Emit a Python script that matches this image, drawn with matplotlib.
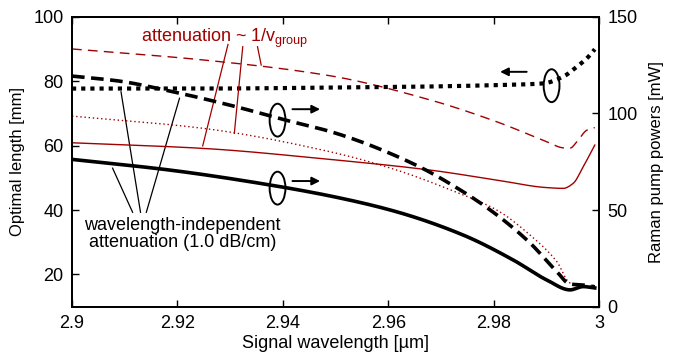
import numpy as np
import matplotlib
matplotlib.use('Agg')
import matplotlib.pyplot as plt
from matplotlib.patches import Ellipse

plt.rcParams['font.family'] = ['Liberation Sans', 'DejaVu Sans']

RED = '#a00000'

# optimal length, wavelength-independent attenuation (left axis)
wl_len_bk = [2.9, 2.9242, 2.9489, 2.966, 2.9812, 2.9894, 2.9932, 2.9958, 2.9977, 2.9992]
len_bk = [77.7, 77.7, 78.0, 78.3, 78.8, 79.3, 81.4, 84.5, 87.1, 89.9]

# optimal length, attenuation ~ 1/v_group (left axis)
wl_len_rd = [2.9, 2.9248, 2.9489, 2.9679, 2.9806, 2.9901, 2.9932, 2.9945, 2.9958, 2.9977, 2.9992]
len_rd = [90.0, 86.6, 81.7, 74.2, 67.4, 61.2, 59.3, 59.2, 61.2, 64.8, 65.6]

# pump powers (right axis)
wl_p_dash = [2.9, 2.909, 2.9185, 2.9312, 2.939, 2.950, 2.9647, 2.9742, 2.9806, 2.9869, 2.992, 2.9945, 2.997, 2.9992]
p_dash = [119.3, 116.7, 111.6, 103.4, 97.6, 89.8, 74.0, 59.5, 47.5, 33.0, 18.1, 11.7, 11.2, 10.3]

wl_p_solid = [2.9, 2.9185, 2.9375, 2.9502, 2.9616, 2.9742, 2.9837, 2.9901, 2.9945, 2.997, 2.9992]
p_solid = [76.2, 70.7, 63.0, 56.6, 49.1, 37.1, 24.2, 13.8, 8.7, 10.4, 9.7]

wl_p_rdot = [2.9, 2.9248, 2.9489, 2.9616, 2.9711, 2.9806, 2.9869, 2.992, 2.9945, 2.9992]
p_rdot = [98.6, 92.3, 80.2, 70.7, 61.2, 50.0, 37.1, 23.3, 12.3, 10.3]

wl_p_rsolid = [2.9, 2.9248, 2.9489, 2.9679, 2.9806, 2.9901, 2.9932, 2.9951, 2.997, 2.9992]
p_rsolid = [84.8, 81.9, 76.2, 70.7, 65.5, 61.6, 61.2, 63.8, 72.4, 83.6]

xticks = [2.9, 2.92, 2.94, 2.96, 2.98, 3.0]
xticklabels = ['2.9', '2.92', '2.94', '2.96', '2.98', '3']


def pchip(x, y, n=400):
    # monotone cubic (Fritsch-Carlson) through the read-off points
    x = np.asarray(x, float)
    y = np.asarray(y, float)
    h = np.diff(x)
    d = np.diff(y) / h
    m = np.zeros_like(y)
    m[0], m[-1] = d[0], d[-1]
    for i in range(1, len(x) - 1):
        if d[i - 1] * d[i] > 0:
            w1 = 2 * h[i] + h[i - 1]
            w2 = h[i] + 2 * h[i - 1]
            m[i] = (w1 + w2) / (w1 / d[i - 1] + w2 / d[i])
    xs = np.linspace(x[0], x[-1], n)
    idx = np.clip(np.searchsorted(x, xs) - 1, 0, len(x) - 2)
    t = (xs - x[idx]) / h[idx]
    h00 = 2 * t**3 - 3 * t**2 + 1
    h10 = t**3 - 2 * t**2 + t
    h01 = -2 * t**3 + 3 * t**2
    h11 = t**3 - t**2
    ys = h00 * y[idx] + h10 * h[idx] * m[idx] + h01 * y[idx + 1] + h11 * h[idx] * m[idx + 1]
    return xs, ys


fig = plt.figure(figsize=(6.78, 3.56), dpi=100)
ax = fig.add_axes([0.1062, 0.1385, 0.7773, 0.8145])
ax2 = ax.twinx()

ax.plot(*pchip(wl_len_rd, len_rd), color=RED, lw=1.0, dashes=(7, 4.5))
ax.plot(*pchip(wl_len_bk, len_bk), color='k', lw=3.0, dashes=(1, 1.2))

ax2.plot(*pchip(wl_p_rsolid, p_rsolid), color=RED, lw=1.0)
ax2.plot(*pchip(wl_p_rdot, p_rdot), color=RED, lw=1.0, dashes=(1, 2))
ax2.plot(*pchip(wl_p_dash, p_dash), color='k', lw=2.6, dashes=(3.5, 1.8))
ax2.plot(*pchip(wl_p_solid, p_solid), color='k', lw=2.6)

ax.set_xlim(2.9, 3.0)
ax.set_ylim(10, 100)
ax2.set_ylim(0, 150)
ax.set_xticks(xticks)
ax.set_xticklabels(xticklabels)
ax.set_yticks([20, 40, 60, 80, 100])
ax2.set_yticks([0, 50, 100, 150])

for a in (ax, ax2):
    a.tick_params(direction='in', labelsize=13, length=5, width=1, pad=6)
    for s in a.spines.values():
        s.set_linewidth(1.3)
ax.tick_params(top=True)

ax.set_xlabel('Signal wavelength [µm]', fontsize=13, labelpad=2)
ax.set_ylabel('Optimal length [mm]', fontsize=12, labelpad=6)
ax2.set_ylabel('Raman pump powers [mW]', fontsize=12, labelpad=8)

# loops and arrows
for (cx, cy) in [(2.9910, 78.6), (2.9390, 67.9), (2.9390, 46.8)]:
    ax.add_patch(Ellipse((cx, cy), 0.0030, 10.2, fill=False, lw=1.4, color='k'))
arrow = dict(arrowstyle='-|>', color='k', lw=1.4, mutation_scale=12)
ax.annotate('', xy=(2.9807, 82.9), xytext=(2.9868, 82.9), arrowprops=arrow)
ax.annotate('', xy=(2.9476, 71.3), xytext=(2.9413, 71.3), arrowprops=arrow)
ax.annotate('', xy=(2.9476, 49.0), xytext=(2.9413, 49.0), arrowprops=arrow)

# pointer lines
for (x0, y0, x1, y1) in [(2.9077, 53.0, 2.9115, 39.3), (2.9093, 76.7, 2.9130, 39.3),
                         (2.9204, 74.7, 2.9141, 39.3)]:
    ax.plot([x0, x1], [y0, y1], color='k', lw=0.9)
for (x0, y0, x1, y1) in [(2.9296, 91.4, 2.9248, 59.9), (2.9324, 90.7, 2.9308, 63.8),
                         (2.9352, 90.7, 2.9359, 85.0)]:
    ax.plot([x0, x1], [y0, y1], color=RED, lw=0.9)

ax.text(2.9289, 93.3, r'attenuation ~ 1/v$_{\mathregular{group}}$', color=RED,
        fontsize=13, ha='center', va='center')
ax.text(2.9210, 32.6, 'wavelength-independent\nattenuation (1.0 dB/cm)', color='k',
        fontsize=13, ha='center', va='center', linespacing=1.0)

fig.savefig('out.png', dpi=100)
